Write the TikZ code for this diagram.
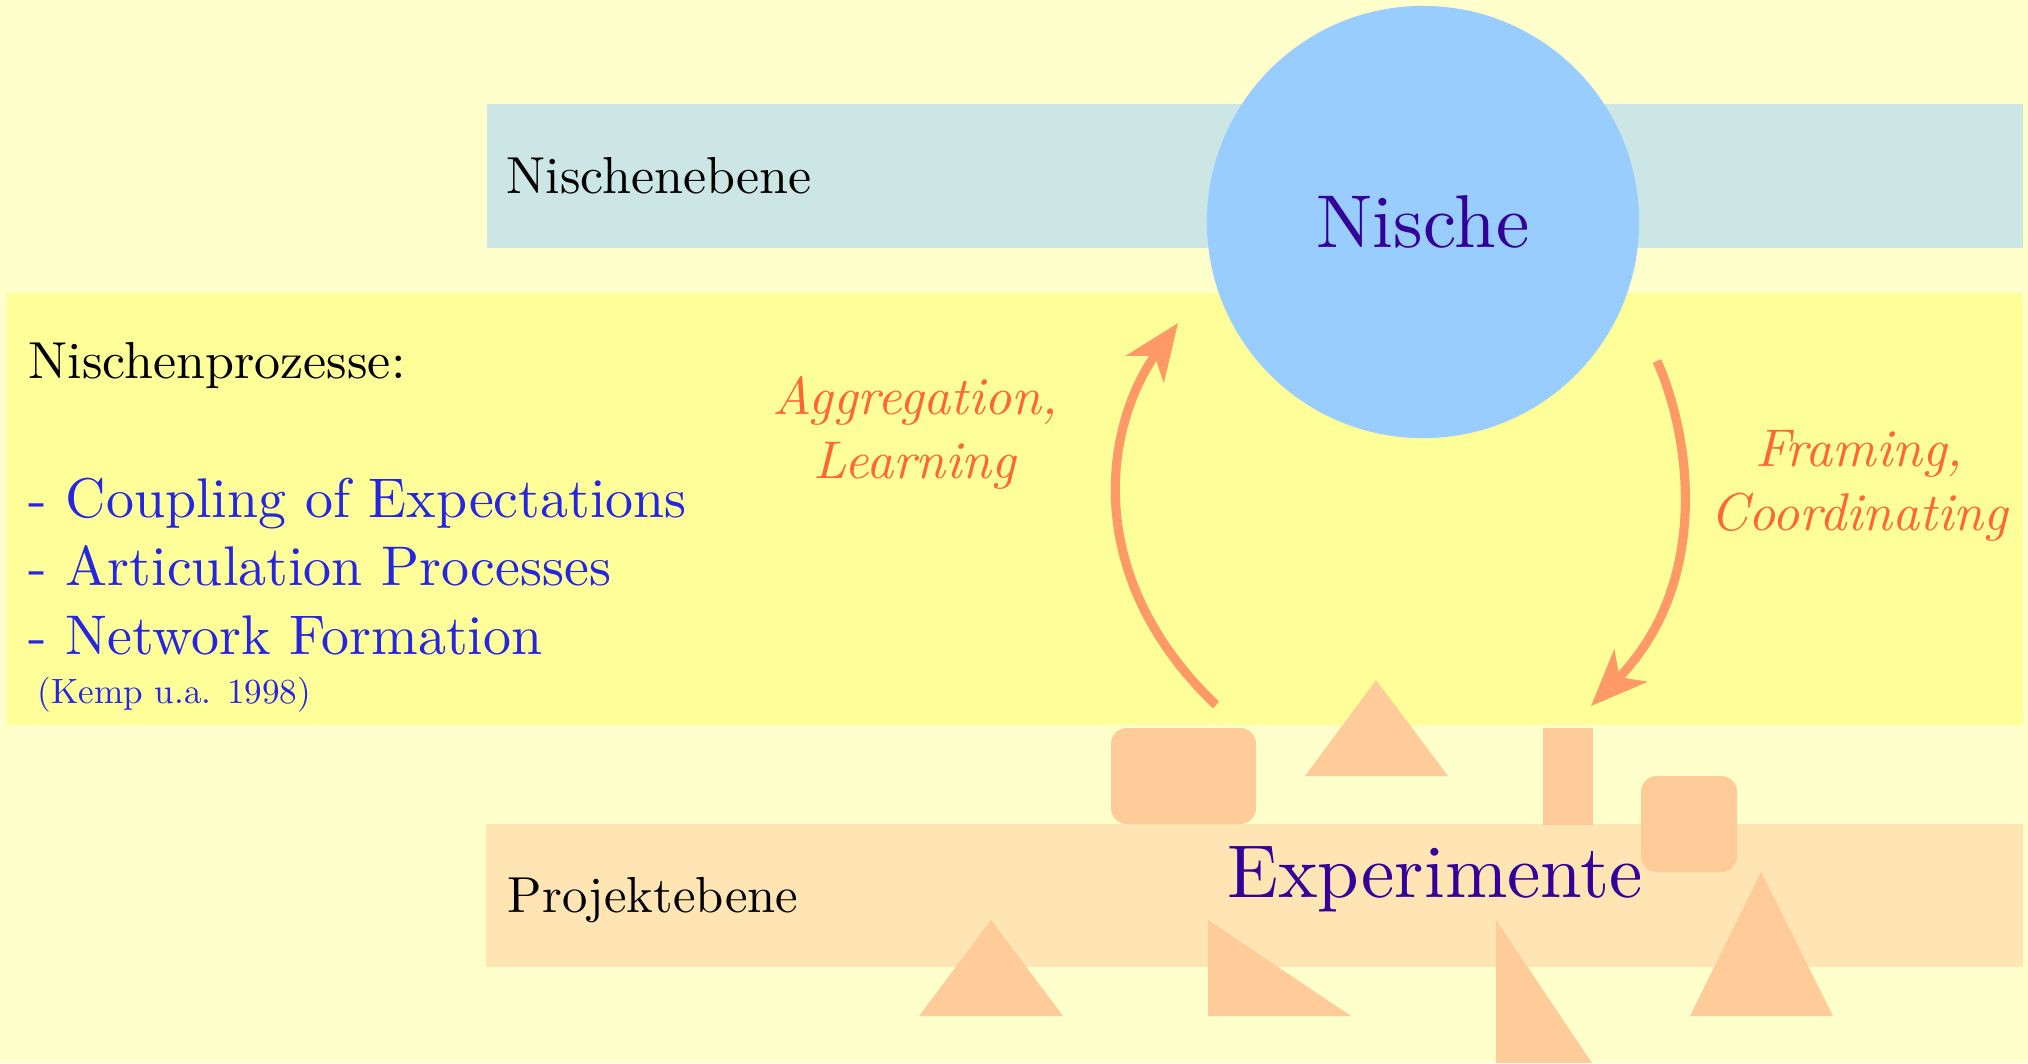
\documentclass[tikz,border=0pt]{standalone}
\usepackage{tikz}
\usetikzlibrary{arrows.meta}
\DeclareFontFamily{TU}{lmrten}{}
\DeclareFontShape{TU}{lmrten}{m}{n}{<-> "[lmroman10-regular]:+tlig;"}{}
\DeclareFontShape{TU}{lmrten}{m}{it}{<-> "[lmroman10-italic]:+tlig;"}{}
\renewcommand{\rmdefault}{lmrten}
\definecolor{paper}{HTML}{FFFFCC}
\definecolor{nicheband}{HTML}{CCE6E6}
\definecolor{procband}{HTML}{FFFF99}
\definecolor{projband}{HTML}{FFE5B3}
\definecolor{nichefill}{HTML}{99CCFF}
\definecolor{piececol}{HTML}{FFCC99}
\definecolor{flowcol}{HTML}{FF9966}
\definecolor{labelcol}{HTML}{FF6633}
\definecolor{itemblue}{HTML}{2626E0}
\definecolor{bigcol}{HTML}{330099}

\begin{document}
\begin{tikzpicture}[x=0.01cm, y=-0.01cm,
    piece/.style={fill=piececol},
    flow/.style={draw=flowcol, line width=2.6pt, -{Stealth[length=16pt,width=13pt,inset=4.5pt]}},
    level/.style={anchor=base west, inner sep=0, font=\fontsize{14.8}{18}\selectfont},
    item/.style={anchor=base west, inner sep=0, text=itemblue, font=\fontsize{15.9}{20}\selectfont},
    flowlabel/.style={anchor=base, inner sep=0, align=center, text=labelcol, font=\fontsize{15.1}{18.2}\selectfont\itshape},
    big/.style={inner sep=0, text=bigcol, font=\fontsize{21.3}{26}\selectfont}]
    \fill[paper] (0, 0) rectangle (2028, 1063);
    \useasboundingbox (0, 0) rectangle (2028, 1063);

    % Draw the three levels
    \fill[nicheband] (487, 104) rectangle (2023, 248);
    \fill[procband] (7, 293) rectangle (2023, 725);
    \fill[projband] (486, 824) rectangle (2023, 967);

    % Niche circle
    \node[circle, fill=nichefill, minimum size=4.32cm, big] (nische) at (1423, 222) {Nische};

    % Pieces above the project level
    \fill[piece, rounded corners=4.5pt] (1111, 728) rectangle (1256, 824);
    \fill[piece] (1305, 776) -- (1376, 680) -- (1448, 776) -- cycle;
    \fill[piece] (1543, 728) rectangle (1593, 825);
    \fill[piece, rounded corners=4.5pt] (1641, 776) rectangle (1737, 872);

    % Pieces below
    \fill[piece] (919, 1016) -- (991, 920) -- (1063, 1016) -- cycle;
    \fill[piece] (1208, 920) -- (1208, 1016) -- (1351, 1016) -- cycle;
    \fill[piece] (1496, 920) -- (1496, 1063) -- (1592, 1063) -- cycle;
    \fill[piece] (1690, 1016) -- (1761, 872) -- (1833, 1016) -- cycle;

    % Arrows between the levels
    \coordinate (aggStart) at (1216, 705);
    \coordinate (aggEnd) at (1178, 323);
    \coordinate (frameStart) at (1657, 361);
    \coordinate (frameEnd) at (1591, 706);
    \draw[flow] (aggStart) .. controls (1080, 575) and (1105, 425) .. (aggEnd);
    \draw[flow] (frameStart) .. controls (1692, 440) and (1710, 585) .. (frameEnd);

    \node[flowlabel] (aggLabel) at (915, 478) {Aggregation,\\Learning};
    \node[flowlabel] (frameLabel) at (1859, 530) {Framing,\\Coordinating};

    % Labels for the levels
    \node[level] (nicheLevel) at (506, 193) {Nischenebene};
    \node[level, font=\fontsize{14.4}{18}\selectfont] (projLevel) at (507, 912) {Projektebene};
    \node[big, anchor=base] (experimente) at (1435, 897) {Experimente};

    % Niche processes
    \node[level] (procTitle) at (28, 378) {Nischenprozesse:};
    \node[item] (coupling) at (28, 517) {- Coupling of Expectations};
    \node[item] (articulation) at (28, 585) {- Articulation Processes};
    \node[item] (network) at (28, 654) {- Network Formation};
    \node[item, font=\fontsize{10}{12}\selectfont] (kemp) at (37, 703) {(Kemp u.a. 1998)};
\end{tikzpicture}
\end{document}
